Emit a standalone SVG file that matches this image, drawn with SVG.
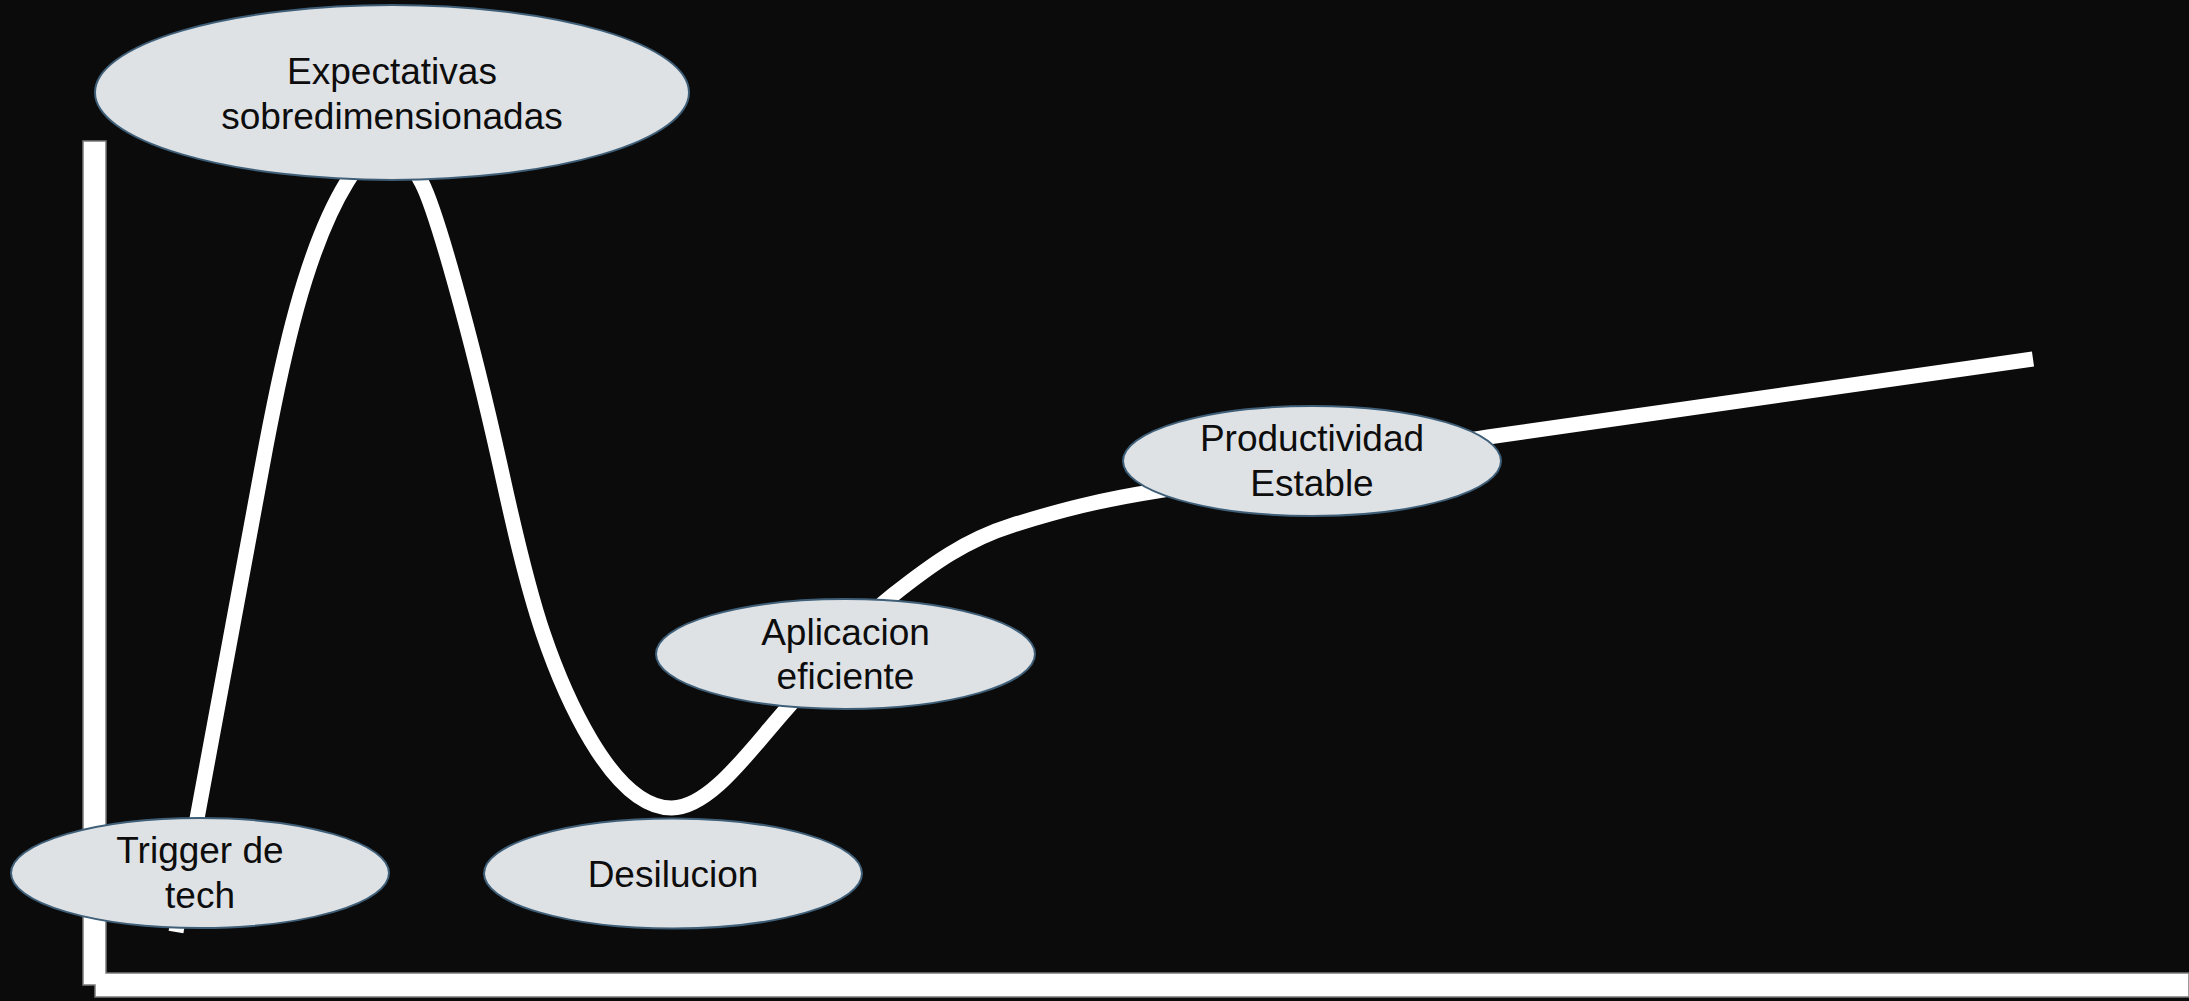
<svg xmlns="http://www.w3.org/2000/svg" width="2189" height="1001" viewBox="0 0 2189 1001">
<style>
.node ellipse{fill:#dfe2e5;stroke:#3f5f78;stroke-width:2}
.node text{font-family:"Liberation Sans",Arial,sans-serif;font-size:37px;fill:#0d0d0d;text-anchor:middle}
.curve{fill:none;stroke:#ffffff;stroke-width:15;stroke-linecap:butt;stroke-linejoin:round}
.axis{fill:#ffffff;stroke:#7a7a7a;stroke-width:1.5}
</style>
<rect x="0" y="0" width="2189" height="1001" fill="#0b0b0b"/>
<path class="axis" d="M83,141 H106 V973 H2189 V997 H95 V985 H83 Z"/>
<g id="connectors">
<path class="curve" d="M176,932 L266,446 C282,362 305,250 347,182 C372,142 400,142 421.7,182.6 C436,210 470,330 500,464.6 C510,510 525,580 543,633 C561,686 610,808 671.7,808 C710,808 750,750 786.7,708.7 C823,667 855,625 893,595 C931,565 965,540 1013,525 C1061,510 1100,500 1157,491 L1488,437 L2033,359"/>
</g>
<g id="node-expectativas" class="node">
<ellipse cx="392" cy="92.5" rx="297" ry="87.5"/>
<text x="392" y="84">Expectativas</text>
<text x="392" y="129">sobredimensionadas</text>
</g>
<g id="node-trigger" class="node">
<ellipse cx="200" cy="873" rx="189" ry="55"/>
<text x="200" y="863">Trigger de</text>
<text x="200" y="908">tech</text>
</g>
<g id="node-desilucion" class="node">
<ellipse cx="673" cy="873.5" rx="189" ry="55"/>
<text x="673" y="887">Desilucion</text>
</g>
<g id="node-aplicacion" class="node">
<ellipse cx="845.5" cy="654" rx="189.5" ry="55"/>
<text x="845.5" y="645">Aplicacion</text>
<text x="845.5" y="689">eficiente</text>
</g>
<g id="node-productividad" class="node">
<ellipse cx="1312" cy="461" rx="189" ry="55"/>
<text x="1312" y="451">Productividad</text>
<text x="1312" y="496">Estable</text>
</g>
</svg>
